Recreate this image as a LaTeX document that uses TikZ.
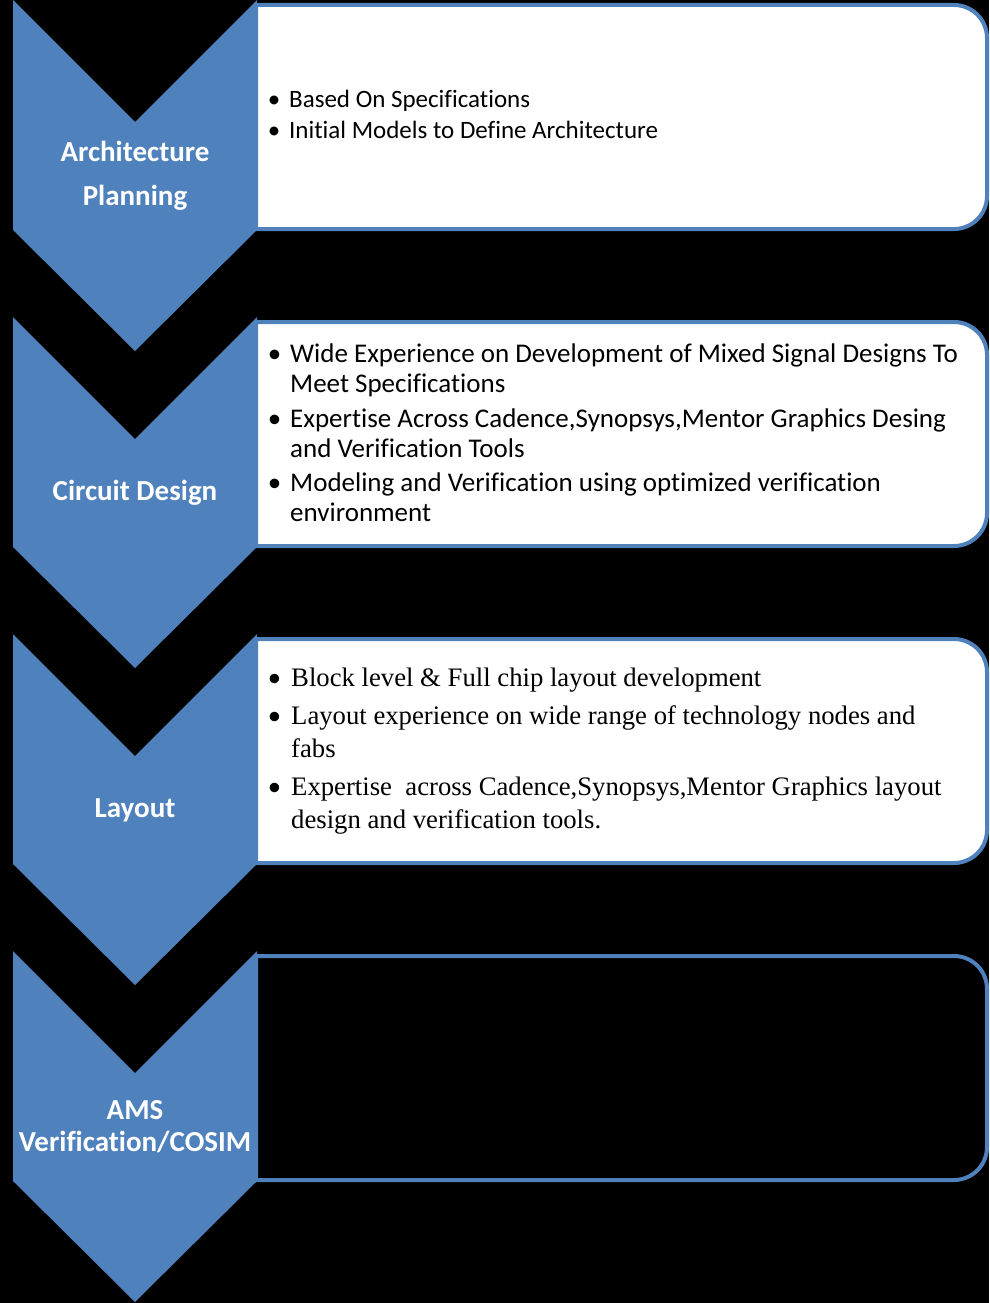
\documentclass[tikz,border=0pt]{standalone}
\usepackage{fontspec}
\setmainfont{Carlito}[Ligatures={NoCommon}]
\newfontfamily\carl{Carlito}
\newfontfamily\serifx{Liberation Serif}[Ligatures={NoCommon}]
\definecolor{chev}{RGB}{79,129,189}
\newcommand\bul{\llap{•\hspace{9pt}}}
\newcommand\bulS{\llap{{\carl •}\hspace{10pt}}}
\begin{document}
\begin{tikzpicture}[x=1pt,y=1pt,
  boxline/.style={draw=chev, line width=4pt},
  chevfill/.style={fill=chev},
  tA/.style={anchor=base west, inner sep=0pt, font=\fontsize{25}{29}\selectfont},
  tB/.style={anchor=base west, inner sep=0pt, font=\fontsize{27}{31}\selectfont},
  tC/.style={anchor=base west, inner sep=0pt, font=\serifx\fontsize{26.7}{31}\selectfont},
  lab/.style={text=white, inner sep=0pt, align=center, font=\bfseries\fontsize{29}{32}\selectfont}]
\fill[black] (0,0) rectangle (989,-1303);
\useasboundingbox (0,0) rectangle (989,-1303);
% boxes
\foreach \t/\f in {0/white,317/white,634/white,951/black}{
  \begin{scope}[shift={(0,-\t)}]
    \draw[boxline, fill=\f] (256,-5) -- (954,-5) arc[start angle=90,end angle=0,radius=33]
      -- (987,-196) arc[start angle=0,end angle=-90,radius=33] -- (256,-229) -- cycle;
  \end{scope}
}
% chevrons
\foreach \t in {0,317,634,951}{
  \begin{scope}[shift={(0,-\t)}]
    \fill[chevfill] (13,0) -- (135,-122) -- (257,0) -- (257,-230) -- (135,-351) -- (13,-230) -- cycle;
  \end{scope}
}
% chevron labels
\node[lab, font=\bfseries\fontsize{29}{44}\selectfont] (l1) at (135,-176) {Architecture\\Planning};
\node[lab] (l2) at (135,-493) {Circuit Design};
\node[lab] (l3) at (135,-810) {Layout};
\node[lab] (l4) at (135,-1127) {AMS\\Verification/COSIM};
% box 1
\node[tA] (a1) at (289,-108) {\bul Based On Specifications};
\node[tA] (a2) at (289,-139) {\bul Initial Models to Define Architecture};
% box 2
\node[tB] (b1) at (290,-362) {\bul Wide Experience on Development of Mixed Signal Designs To};
\node[tB] (b2) at (290,-392) {Meet Specifications};
\node[tB] (b3) at (290,-427) {\bul Expertise Across Cadence,Synopsys,Mentor Graphics Desing};
\node[tB] (b4) at (290,-457) {and Verification Tools};
\node[tB] (b5) at (290,-491) {\bul Modeling and Verification using optimized verification};
\node[tB] (b6) at (290,-521) {environment};
% box 3
\node[tC] (c1) at (291,-686) {\bulS Block level \& Full chip layout development};
\node[tC] (c2) at (291,-724) {\bulS Layout experience on wide range of technology nodes and};
\node[tC] (c3) at (291,-757) {fabs};
\node[tC] (c4) at (291,-795) {\bulS Expertise\ \ across Cadence,Synopsys,Mentor Graphics layout};
\node[tC] (c5) at (291,-828) {design and verification tools.};
\end{tikzpicture}
\end{document}
